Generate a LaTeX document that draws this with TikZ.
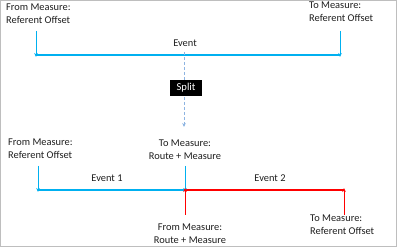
\documentclass[tikz,border=0pt]{standalone}
\usepackage{fontspec}
\setmainfont{Carlito}
\usetikzlibrary{arrows.meta, positioning, calc}
\definecolor{eventblue}{RGB}{0, 176, 240}
\definecolor{eventred}{RGB}{255, 0, 0}
\definecolor{dashblue}{RGB}{141, 180, 226}
\definecolor{framegray}{RGB}{190, 190, 190}
\definecolor{textgray}{RGB}{30, 30, 30}

\begin{document}
\begin{tikzpicture}[
    x=1pt, y=-1pt,
    measlabel/.style={font=\fontsize{10.4}{12.6}\selectfont, text=textgray, align=left, inner sep=0pt},
    eventlabel/.style={font=\fontsize{10.4}{12}\selectfont, text=textgray, inner sep=0pt},
    splitbox/.style={fill=black, text=white, font=\fontsize{10.6}{12}\selectfont, minimum width=32pt, minimum height=16pt, inner sep=0pt},
    blueline/.style={eventblue, line width=2.6pt},
    redline/.style={eventred, line width=2.6pt},
    bluearrow/.style={-{Stealth[length=4pt, width=3.6pt]}, eventblue, line width=0.8pt},
    redarrow/.style={-{Stealth[length=4pt, width=3.6pt]}, eventred, line width=0.8pt},
    splitarrow/.style={-{Stealth[length=4pt, width=3.6pt]}, dashblue, line width=1pt, dash pattern=on 3pt off 2pt}
]
\useasboundingbox (0,0) rectangle (397,248);
\draw [framegray, line width=1pt] (0.5,0.5) rectangle (396,247);

% Original event
\coordinate (ev_start) at (36,55);
\coordinate (ev_end) at (340,55);
\coordinate (ev_split) at (184,55);
\draw [blueline] (ev_start) -- (ev_end);
\node (ev_lbl) [eventlabel] at (185,43) {Event};

\node (from_top) [measlabel, anchor=north west] at (6,4) {From Measure:\\Referent Offset};
\node (to_top) [measlabel, anchor=north west] at (309,2) {To Measure:\\Referent Offset};
\coordinate (from_top_a) at (36,31);
\coordinate (to_top_a) at (340,31);
\draw [bluearrow] (from_top_a) -- ([yshift=-2pt]ev_start);
\draw [bluearrow] (to_top_a) -- ([yshift=-2pt]ev_end);

% Split
\coordinate (split_end) at (184,127);
\draw [splitarrow] ([yshift=3pt]ev_split) -- (split_end);
\node (split) [splitbox] at (186,88) {Split};

% Event 1 and Event 2
\coordinate (e1_start) at (38,190);
\coordinate (e_mid) at (185,190);
\coordinate (e2_end) at (344,190);
\draw [blueline] (e1_start) -- (e_mid);
\draw [redline] (e_mid) -- (e2_end);
\node (e1_lbl) [eventlabel] at (107,178) {Event 1};
\node (e2_lbl) [eventlabel] at (270,178) {Event 2};

\node (from_e1) [measlabel, anchor=north west] at (8,139) {From Measure:\\Referent Offset};
\node (to_e1) [measlabel, align=center] at (185,150) {To Measure:\\Route + Measure};
\node (from_e2) [measlabel, align=center] at (190,234) {From Measure:\\Route + Measure};
\node (to_e2) [measlabel, anchor=north west] at (310,215) {To Measure:\\Referent Offset};

\coordinate (from_e1_a) at (38,166);
\coordinate (to_e1_a) at (185,166);
\coordinate (from_e2_a) at (185,215);
\coordinate (to_e2_a) at (344,215);
\draw [bluearrow] (from_e1_a) -- ([yshift=-2pt]e1_start);
\draw [bluearrow] (to_e1_a) -- ([yshift=-2pt]e_mid);
\draw [redarrow] (from_e2_a) -- ([yshift=2pt]e_mid);
\draw [redarrow] (to_e2_a) -- ([yshift=2pt]e2_end);

\end{tikzpicture}
\end{document}
